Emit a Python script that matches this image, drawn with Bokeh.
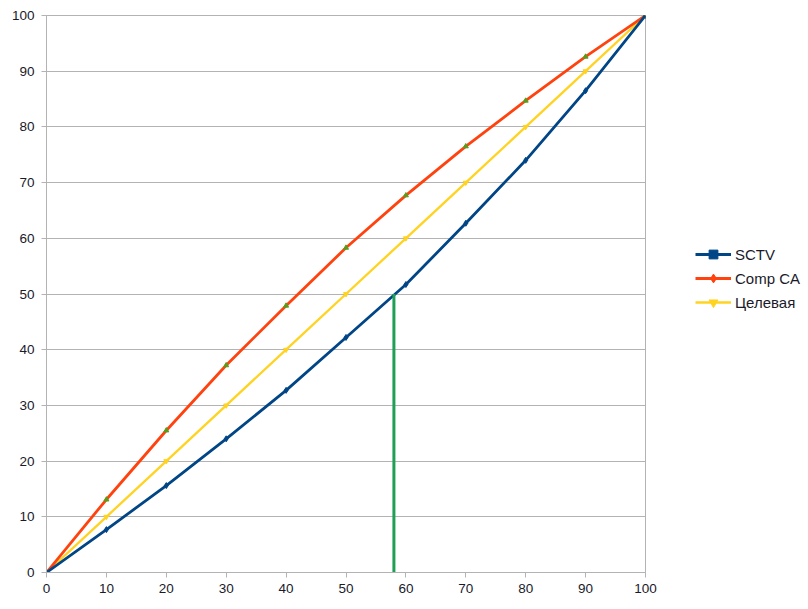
from bokeh.plotting import figure
from bokeh.models import Legend, LegendItem, FixedTicker, ColumnDataSource
from bokeh.embed import file_html
from bokeh.resources import INLINE

x_vals = [0, 10, 20, 30, 40, 50, 60, 70, 80, 90, 100]
sctv = [0, 7.7, 15.6, 24.0, 32.7, 42.2, 51.7, 62.7, 74.0, 86.5, 100]
comp_ca = [0, 13.1, 25.5, 37.2, 47.9, 58.3, 67.7, 76.5, 84.7, 92.6, 100]
target = [0, 10, 20, 30, 40, 50, 60, 70, 80, 90, 100]
marker_x = [58, 58]
marker_y = [0, 50]
ticks = [0, 10, 20, 30, 40, 50, 60, 70, 80, 90, 100]

C_SCTV = "#004586"
C_COMP = "#ff420e"
C_TGT = "#ffd320"
C_GREEN = "#1f9e55"
C_COMP_MK = "#579d1c"
GRID = "#b3b3b3"
FONT = "Liberation Sans"

p = figure(width=800, height=601, output_backend="svg", toolbar_location=None,
           x_range=(0, 100), y_range=(0, 100),
           frame_width=599, frame_height=557,
           min_border_left=46, min_border_top=15, min_border_bottom=29, min_border_right=10)
p.background_fill_color = "white"
p.border_fill_color = "white"
p.outline_line_color = GRID
p.outline_line_width = 1

p.xgrid.visible = False
p.ygrid.grid_line_color = GRID
p.ygrid.ticker = FixedTicker(ticks=ticks)

for ax in (p.xaxis[0], p.yaxis[0]):
    ax.ticker = FixedTicker(ticks=ticks)
    ax.axis_line_color = GRID
    ax.major_tick_line_color = GRID
    ax.major_tick_out = 5
    ax.major_tick_in = 0
    ax.minor_tick_line_color = None
    ax.major_label_text_font = FONT
    ax.major_label_text_font_size = "13.5px"
    ax.major_label_text_color = "#1a1a2a"
p.xaxis.major_label_standoff = 6
p.yaxis.major_label_standoff = 7

src = ColumnDataSource(dict(x=x_vals, sctv=sctv, comp=comp_ca, tgt=target))

l_tgt = p.line("x", "tgt", source=src, line_color=C_TGT, line_width=2.3)
m_tgt = p.scatter("x", "tgt", source=src, marker="inverted_triangle", size=5,
                  fill_color=C_TGT, line_color=C_TGT)
l_comp = p.line("x", "comp", source=src, line_color=C_COMP, line_width=2.8)
m_comp = p.scatter("x", "comp", source=src, marker="triangle", size=5,
                   fill_color=C_COMP_MK, line_color=C_COMP_MK)
l_sctv = p.line("x", "sctv", source=src, line_color=C_SCTV, line_width=2.8)
m_sctv = p.scatter("x", "sctv", source=src, marker="diamond", size=6,
                   fill_color=C_SCTV, line_color=C_SCTV)

p.line(marker_x, marker_y, line_color=C_GREEN, line_width=3)

# legend-only marker glyphs (hidden on the plot)
lg_sctv = p.scatter("x", "sctv", source=src, marker="square", size=8,
                    fill_color=C_SCTV, line_color=C_SCTV, visible=False)
lg_comp = p.scatter("x", "comp", source=src, marker="diamond", size=10,
                    fill_color=C_COMP, line_color=C_COMP, visible=False)
lg_tgt = p.scatter("x", "tgt", source=src, marker="inverted_triangle", size=9,
                   fill_color=C_TGT, line_color=C_TGT, visible=False)

legend = Legend(items=[
    LegendItem(label="SCTV", renderers=[l_sctv, lg_sctv]),
    LegendItem(label="Comp CA", renderers=[l_comp, lg_comp]),
    LegendItem(label="Целевая", renderers=[l_tgt, lg_tgt]),
], location=(50, 259))
legend.label_text_font = FONT
legend.label_text_font_size = "15px"
legend.label_text_color = "#1a1a2a"
legend.border_line_color = None
legend.background_fill_alpha = 0
legend.inactive_fill_alpha = 0
legend.glyph_width = 36
legend.glyph_height = 22
legend.label_height = 22
legend.spacing = 2
legend.label_standoff = 4
legend.margin = 0
legend.padding = 0
p.add_layout(legend, "right")

open("out.html", "w").write(file_html(p, INLINE))
